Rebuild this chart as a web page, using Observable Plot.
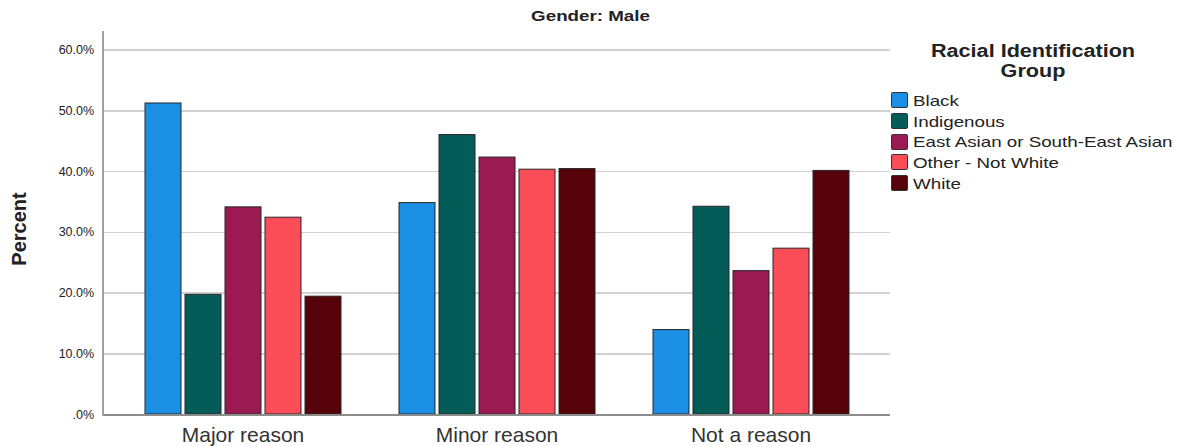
<!DOCTYPE html>
<html>
<head>
<meta charset="utf-8">
<script src="https://cdn.jsdelivr.net/npm/d3@7"></script>
<script src="https://cdn.jsdelivr.net/npm/@observablehq/plot@0.6"></script>
<style>
  html, body { margin: 0; padding: 0; background: #fff; }
  body { font-family: "Liberation Sans", Arial, sans-serif; color: #222; }
  #wrap { position: relative; width: 1181px; height: 446px; overflow: hidden; }
  #chart { position: absolute; left: 0; top: 0; }
  .title { position: absolute; left: 0; width: 1181px; top: 8px; text-align: center; font-weight: bold; font-size: 15px; line-height: 15px; }
  .title span, .lt span, .li span { display: inline-block; }
  .title span { transform: scaleX(1.25); }
  .ylab { position: absolute; width: 120px; height: 20px; line-height: 20px; font-size: 20px; font-weight: bold; text-align: center; left: -40.6px; top: 219px; transform: rotate(-90deg); transform-origin: 60px 10px; }
  .lt { position: absolute; left: 883px; width: 300px; text-align: center; font-weight: bold; font-size: 18px; line-height: 20px; top: 40.5px; }
  .lt span { transform: scaleX(1.2); }
  .li { position: absolute; left: 891px; height: 20.6px; line-height: 20.6px; font-size: 15px; white-space: nowrap; }
  .sw { position: absolute; left: 0; top: 1.3px; width: 17px; height: 16px; box-sizing: border-box; border: 1px solid #333; border-radius: 1.5px; }
  .li span { position: absolute; left: 22px; top: 0; transform: scaleX(1.25); transform-origin: left center; }
</style>
</head>
<body>
<div id="wrap">
  <div id="chart"></div>
  <div class="title"><span>Gender: Male</span></div>
  <div class="ylab">Percent</div>
  <div class="lt"><span>Racial Identification</span><br><span>Group</span></div>
  <div id="legend"></div>
</div>
<script>
const reasons = ["Major reason", "Minor reason", "Not a reason"];
const races = ["Black", "Indigenous", "East Asian or South-East Asian", "Other - Not White", "White"];
const raceColors = ["#1a8fe3", "#035c58", "#9c1a52", "#fa4d57", "#55020a"];
const valuesBlack = [51.2, 34.8, 13.9];
const valuesIndigenous = [19.7, 46.0, 34.2];
const valuesEastAsian = [34.1, 42.3, 23.6];
const valuesOther = [32.4, 40.3, 27.3];
const valuesWhite = [19.4, 40.4, 40.1];
const yTicks = [0, 10, 20, 30, 40, 50, 60];
const yTickLabels = [".0%", "10.0%", "20.0%", "30.0%", "40.0%", "50.0%", "60.0%"];

const series = [valuesBlack, valuesIndigenous, valuesEastAsian, valuesOther, valuesWhite];
const data = races.flatMap((race, i) => series[i].map((v, j) => ({reason: reasons[j], race, value: v})));

// layout
const W = 1181, H = 446, mL = 103, mR = 290;
const fxPadIn = 0.2244, fxPadOut = 0.163;
const fxStep = (W - mL - mR) / (reasons.length - fxPadIn + 2 * fxPadOut);
const outerGap = fxStep * fxPadOut;

const chart = Plot.plot({
  width: W,
  height: H,
  marginTop: 31,
  marginBottom: 32,
  marginLeft: mL,
  marginRight: mR,
  style: {fontFamily: "'Liberation Sans', Arial, sans-serif", background: "transparent"},
  fx: {domain: reasons, paddingInner: fxPadIn, paddingOuter: fxPadOut, label: null},
  x: {domain: races, paddingInner: 0.1, paddingOuter: 0, axis: null},
  y: {domain: [0, 63.05], axis: null},
  color: {domain: races, range: raceColors},
  marks: [
    Plot.ruleY(yTicks.filter(t => t > 0), {stroke: "#d2d2d2", strokeWidth: 1.5, shapeRendering: "crispEdges", insetLeft: -outerGap, insetRight: -outerGap}),
    Plot.barY(data, {fx: "reason", x: "race", y: "value", fill: "race", stroke: "#262626", strokeWidth: 1}),
    Plot.ruleY([0], {stroke: "#8c8c8c", strokeWidth: 2, shapeRendering: "crispEdges", insetLeft: -outerGap, insetRight: -outerGap}),
    Plot.frame({anchor: "left", stroke: "#a0a0a0", strokeWidth: 2, shapeRendering: "crispEdges", facetAnchor: "left", dx: -outerGap}),
    Plot.axisY({ticks: yTicks, tickFormat: d => yTickLabels[yTicks.indexOf(d)], tickSize: 0, tickPadding: 9, dx: -outerGap, fontSize: 12.5, fill: "#222", label: null}),
    Plot.axisFx({anchor: "bottom", tickSize: 0, tickPadding: 13, fontSize: 21, fill: "#333", label: null})
  ]
});
document.getElementById("chart").appendChild(chart);

const legend = document.getElementById("legend");
races.forEach((race, i) => {
  const item = document.createElement("div");
  item.className = "li";
  item.style.top = (91.2 + i * 20.6) + "px";
  const sw = document.createElement("div");
  sw.className = "sw";
  sw.style.background = raceColors[i];
  const label = document.createElement("span");
  label.textContent = race;
  item.appendChild(sw);
  item.appendChild(label);
  legend.appendChild(item);
});
</script>
</body>
</html>
